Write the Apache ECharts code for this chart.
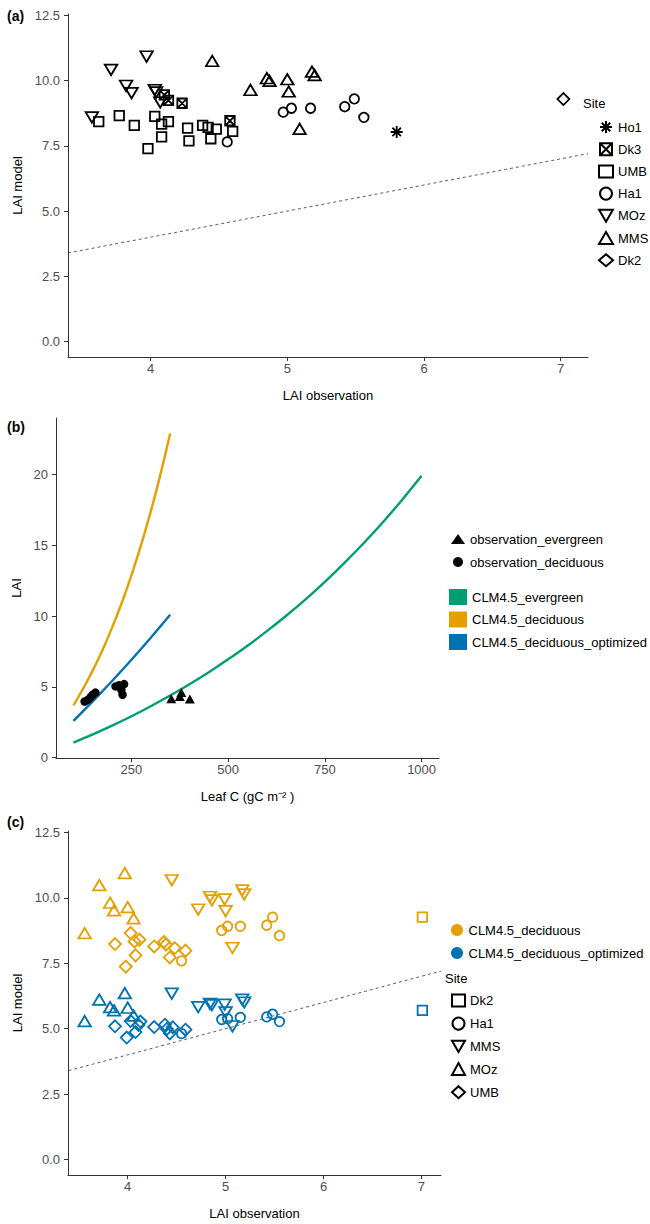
<!DOCTYPE html>
<html><head><meta charset="utf-8">
<script src="https://cdn.jsdelivr.net/npm/echarts@6/dist/echarts.min.js"></script>
<style>html,body{margin:0;padding:0;background:#fff}#c{width:650px;height:1224px}</style>
</head><body><div id="c"></div>
<script>
// ---------------- Panel (a) data: LAI observation (x) vs LAI model (y) ----------------
const aSites = ['Ho1','Dk3','UMB','Ha1','MOz','MMS','Dk2'];
const aHo1X = [5.80];                         const aHo1Y = [8.03];
const aDk3X = [4.10, 4.13, 4.23, 4.58];       const aDk3Y = [9.45, 9.24, 9.13, 8.46];
const aUMBX = [3.62, 3.77, 3.88, 3.98, 4.03, 4.08, 4.13, 4.08, 4.27, 4.28, 4.38, 4.42, 4.44, 4.48, 4.60];
const aUMBY = [8.43, 8.66, 8.28, 7.39, 8.63, 8.33, 8.43, 7.84, 8.18, 7.69, 8.28, 8.21, 7.77, 8.14, 8.05];
const aHa1X = [4.56, 4.97, 5.03, 5.17, 5.42, 5.49, 5.56];
const aHa1Y = [7.65, 8.79, 8.94, 8.94, 9.00, 9.30, 8.59];
const aMOzX = [3.57, 3.71, 3.97, 3.82, 3.86, 4.03, 4.04, 4.07];
const aMOzY = [8.59, 10.41, 10.92, 9.80, 9.52, 9.64, 9.55, 9.16];
const aMMSX = [4.45, 4.73, 4.85, 4.87, 5.00, 5.01, 5.09, 5.18, 5.20];
const aMMSY = [10.75, 9.64, 10.09, 9.99, 10.05, 9.58, 8.15, 10.34, 10.21];
const aDk2X = [7.02];                         const aDk2Y = [9.29];

// ---------------- Panel (b) data: Leaf C vs LAI ----------------
const bObsEvergreenC   = [353, 375, 379, 401];
const bObsEvergreenLAI = [4.16, 4.33, 4.61, 4.14];
const bObsDeciduousC   = [129, 138, 145, 150, 157, 209, 218, 231, 224, 227];
const bObsDeciduousLAI = [3.97, 4.10, 4.30, 4.45, 4.60, 5.04, 5.12, 5.20, 4.80, 4.45];
const bEvergreenC   = [100,150,200,250,300,350,400,450,500,550,600,650,700,750,800,850,900,950,1000];
const bEvergreenLAI = [1.07,1.65,2.27,2.93,3.64,4.39,5.19,6.04,6.95,7.91,8.94,10.03,11.19,12.43,13.75,15.15,16.64,18.23,19.92];
const bDeciduousC   = [100,125,150,175,200,225,250,275,300,325,350];
const bDeciduousLAI = [3.69,4.87,6.17,7.60,9.19,10.95,12.89,15.03,17.40,20.02,22.91];
const bOptimizedC   = [100,150,200,250,300,350];
const bOptimizedLAI = [2.60,3.98,5.42,6.92,8.48,10.10];

// ---------------- Panel (c) data: LAI observation vs two model versions ----------------
const cSites = ['Dk2','Ha1','MMS','MOz','UMB'];
const cDk2X = [7.01];   const cDk2Dec = [9.26];  const cDk2Opt = [5.70];
const cHa1X = [4.55, 4.96, 5.02, 5.15, 5.42, 5.48, 5.55];
const cHa1Dec = [7.59, 8.75, 8.91, 8.91, 8.95, 9.26, 8.55];
const cHa1Opt = [4.81, 5.35, 5.38, 5.43, 5.45, 5.55, 5.27];
const cMMSX = [4.45, 4.72, 4.84, 4.86, 4.99, 5.00, 5.07, 5.17, 5.19];
const cMMSDec = [10.67, 9.55, 10.03, 9.90, 9.94, 9.49, 8.08, 10.28, 10.13];
const cMMSOpt = [6.34, 5.82, 5.95, 5.90, 5.92, 5.62, 5.09, 6.11, 6.00];
const cMOzX = [3.56, 3.71, 3.97, 3.82, 3.86, 4.00, 4.06];
const cMOzDec = [8.65, 10.48, 10.94, 9.81, 9.52, 9.64, 9.21];
const cMOzOpt = [5.29, 6.11, 6.36, 5.82, 5.70, 5.80, 5.50];
const cUMBXDec = [3.87, 3.98, 4.03, 4.08, 4.07, 4.12, 4.27, 4.37, 4.39, 4.43, 4.48, 4.59];
const cUMBDec  = [8.23, 7.37, 8.65, 7.80, 8.33, 8.40, 8.14, 8.31, 8.21, 7.72, 8.08, 7.98];
const cUMBXOpt = [3.87, 3.99, 4.03, 4.08, 4.11, 4.13, 4.27, 4.38, 4.40, 4.43, 4.46, 4.59];
const cUMBOpt  = [5.09, 4.66, 5.29, 4.87, 5.14, 5.27, 5.06, 5.15, 4.99, 4.82, 5.05, 4.96];

// tick labels
const abXTicks = [4, 5, 6, 7];
const acYTicks = [0, 2.5, 5, 7.5, 10, 12.5];
const bXTicks = [250, 500, 750, 1000];
const bYTicks = [0, 5, 10, 15, 20];
const oneToOne = [3.395, 7.2];

// ---------------- styling ----------------
const FONT = '"Liberation Sans", Arial, Helvetica, sans-serif';
const ORANGE = '#E69F00', BLUE = '#0072B2', GREEN = '#009E73';
const DOWN = 'path://M0,0L12,0L6,10.4Z';
const BOXX = 'path://M0,0L10,0L10,10L0,10Z M0,0L10,10 M10,0L0,10';
const STAR = 'path://M5,0L5,10 M0,5L10,5 M1.46,1.46L8.54,8.54 M8.54,1.46L1.46,8.54';
const symA = {Ho1:[STAR,[12,12]], Dk3:[BOXX,[9.5,9.5]], UMB:['rect',[9.5,9.5]], Ha1:['circle',[9.5,9.5]],
              MOz:[DOWN,[12.5,10.5]], MMS:['triangle',[12.5,10.5]], Dk2:['diamond',[12,12]]};
const symC = {Dk2:['rect',[9.5,9.5]], Ha1:['circle',[9.5,9.5]], MMS:[DOWN,[12.5,10.5]],
              MOz:['triangle',[12.5,10.5]], UMB:['diamond',[12,12]]};

function axis(grid, min, max, ticks, name, gap, margin, fmt){
  return {
    type:'value', gridIndex:grid, min:min, max:max, name:name, nameLocation:'middle', nameGap:gap,
    nameTextStyle:{color:'#000', fontSize:13, fontFamily:FONT},
    axisLine:{onZero:false, lineStyle:{color:'#333', width:1}},
    axisTick:{customValues:ticks, length:4, lineStyle:{color:'#333', width:1}},
    axisLabel:{customValues:ticks, color:'#4d4d4d', fontSize:13, fontFamily:FONT, margin:margin,
               formatter: fmt || (v => String(v))},
    splitLine:{show:false}
  };
}
const f1 = v => v.toFixed(1);
const zip = (xs, ys) => xs.map((x, i) => [x, ys[i]]);
const hollow = c => ({color:'rgba(0,0,0,0)', borderColor:c, borderWidth:1.8, opacity:1});

const aData = {Ho1:[aHo1X,aHo1Y], Dk3:[aDk3X,aDk3Y], UMB:[aUMBX,aUMBY], Ha1:[aHa1X,aHa1Y],
               MOz:[aMOzX,aMOzY], MMS:[aMMSX,aMMSY], Dk2:[aDk2X,aDk2Y]};
const cData = {Dk2:[cDk2X,cDk2Dec,cDk2X,cDk2Opt], Ha1:[cHa1X,cHa1Dec,cHa1X,cHa1Opt],
               MMS:[cMMSX,cMMSDec,cMMSX,cMMSOpt], MOz:[cMOzX,cMOzDec,cMOzX,cMOzOpt],
               UMB:[cUMBXDec,cUMBDec,cUMBXOpt,cUMBOpt]};

const series = [];
// (a)
series.push({type:'line', xAxisIndex:0, yAxisIndex:0, data:zip(oneToOne, oneToOne), symbol:'none', silent:true,
  lineStyle:{color:'#333', width:0.8, type:[3,3]}, z:1});
aSites.forEach(s => {
  series.push({type:'scatter', name:s, xAxisIndex:0, yAxisIndex:0, symbol:symA[s][0], symbolSize:symA[s][1],
    itemStyle:hollow('#000'), data:zip(aData[s][0], aData[s][1]), z:3});
});
// (b)
series.push({type:'line', name:'CLM4.5_evergreen', xAxisIndex:1, yAxisIndex:1, data:zip(bEvergreenC,bEvergreenLAI),
  smooth:0.3, showSymbol:false, lineStyle:{color:GREEN, width:2.4}, itemStyle:{color:GREEN}});
series.push({type:'line', name:'CLM4.5_deciduous', xAxisIndex:1, yAxisIndex:1, data:zip(bDeciduousC,bDeciduousLAI),
  smooth:0.3, showSymbol:false, lineStyle:{color:ORANGE, width:2.4}, itemStyle:{color:ORANGE}});
series.push({type:'line', name:'CLM4.5_deciduous_optimized', xAxisIndex:1, yAxisIndex:1, data:zip(bOptimizedC,bOptimizedLAI),
  smooth:0.3, showSymbol:false, lineStyle:{color:BLUE, width:2.4}, itemStyle:{color:BLUE}});
series.push({type:'scatter', name:'observation_evergreen', xAxisIndex:1, yAxisIndex:1, symbol:'triangle', symbolSize:[10,9],
  itemStyle:{color:'#000', opacity:1}, data:zip(bObsEvergreenC,bObsEvergreenLAI), z:4});
series.push({type:'scatter', name:'observation_deciduous', xAxisIndex:1, yAxisIndex:1, symbol:'circle', symbolSize:8.5,
  itemStyle:{color:'#000', opacity:1}, data:zip(bObsDeciduousC,bObsDeciduousLAI), z:4});
// (c)
series.push({type:'line', xAxisIndex:2, yAxisIndex:2, data:zip(oneToOne, oneToOne), symbol:'none', silent:true,
  lineStyle:{color:'#333', width:0.8, type:[3,3]}, z:1});
cSites.forEach(s => {
  const d = cData[s];
  const pts = zip(d[0], d[1]).map(p => ({value:p, itemStyle:{borderColor:ORANGE}}))
    .concat(zip(d[2], d[3]).map(p => ({value:p, itemStyle:{borderColor:BLUE}})));
  series.push({type:'scatter', name:'c:' + s, xAxisIndex:2, yAxisIndex:2, symbol:symC[s][0], symbolSize:symC[s][1],
    itemStyle:hollow('#000'), data:pts, z:3});
});
series.push({type:'scatter', name:'CLM4.5_deciduous ', xAxisIndex:2, yAxisIndex:2, data:[], symbol:'circle', itemStyle:{color:ORANGE, opacity:1}});
series.push({type:'scatter', name:'CLM4.5_deciduous_optimized ', xAxisIndex:2, yAxisIndex:2, data:[], symbol:'circle', itemStyle:{color:BLUE, opacity:1}});

const legText = {fontSize:13, color:'#000', fontFamily:FONT};
const tag = () => ({fontSize:14, fontWeight:'bold', color:'#000', fontFamily:FONT});
const option = {
  animation:false,
  backgroundColor:'#fff',
  title:[
    {text:'(a)', left:7, top:9, padding:0, textStyle:tag()},
    {text:'(b)', left:7, top:420, padding:0, textStyle:tag()},
    {text:'(c)', left:7, top:815, padding:0, textStyle:tag()},
    {text:'Site', left:583, top:97, padding:0, textStyle:{fontSize:13, fontWeight:'normal', color:'#000', fontFamily:FONT}},
    {text:'Site', left:445, top:972, padding:0, textStyle:{fontSize:13, fontWeight:'normal', color:'#000', fontFamily:FONT}}
  ],
  grid:[
    {left:68, top:14, width:520, height:343, outerBoundsMode:'none'},
    {left:56, top:418, width:383, height:340, outerBoundsMode:'none'},
    {left:68, top:831, width:373, height:344, outerBoundsMode:'none'}
  ],
  xAxis:[
    axis(0, 3.395, 7.2, abXTicks, 'LAI observation', 32, 5),
    axis(1, 55, 1045, bXTicks, 'Leaf C (gC m\u207B\u00B2 )', 32, 5),
    axis(2, 3.39, 7.2, abXTicks, 'LAI observation', 32, 5)
  ],
  yAxis:[
    axis(0, -0.59, 12.55, acYTicks, 'LAI model', 43, 8, f1),
    axis(1, -0.02, 24, bYTicks, 'LAI', 31, 8),
    axis(2, -0.59, 12.55, acYTicks, 'LAI model', 43, 8, f1)
  ],
  legend:[
    {data:aSites, orient:'vertical', left:598, top:120, padding:0, itemWidth:14, itemHeight:12, itemGap:8.2,
     textStyle:legText, selectedMode:false},
    {data:['observation_evergreen','observation_deciduous'], orient:'vertical', left:451, top:532.5, padding:0,
     itemWidth:14, itemHeight:10, itemGap:10, textStyle:legText, selectedMode:false},
    {data:['CLM4.5_evergreen','CLM4.5_deciduous','CLM4.5_deciduous_optimized'], orient:'vertical', left:449, top:589, padding:0,
     itemWidth:18, itemHeight:16, itemGap:6.5, icon:'rect', textStyle:legText, selectedMode:false},
    {data:['CLM4.5_deciduous ','CLM4.5_deciduous_optimized '], orient:'vertical', left:451, top:923.5, padding:0,
     itemWidth:13, itemHeight:12, itemGap:10, textStyle:legText, selectedMode:false, formatter:n => n.trim()},
    {data:cSites.map(s => 'c:' + s), orient:'vertical', left:451, top:993.5, padding:0,
     itemWidth:13, itemHeight:12, itemGap:9.1, textStyle:legText, selectedMode:false, formatter:n => n.replace(/^c:/, '')}
  ],
  series:series
};
const chart = echarts.init(document.getElementById('c'), null, {renderer:'svg'});
chart.setOption(option);
</script></body></html>
